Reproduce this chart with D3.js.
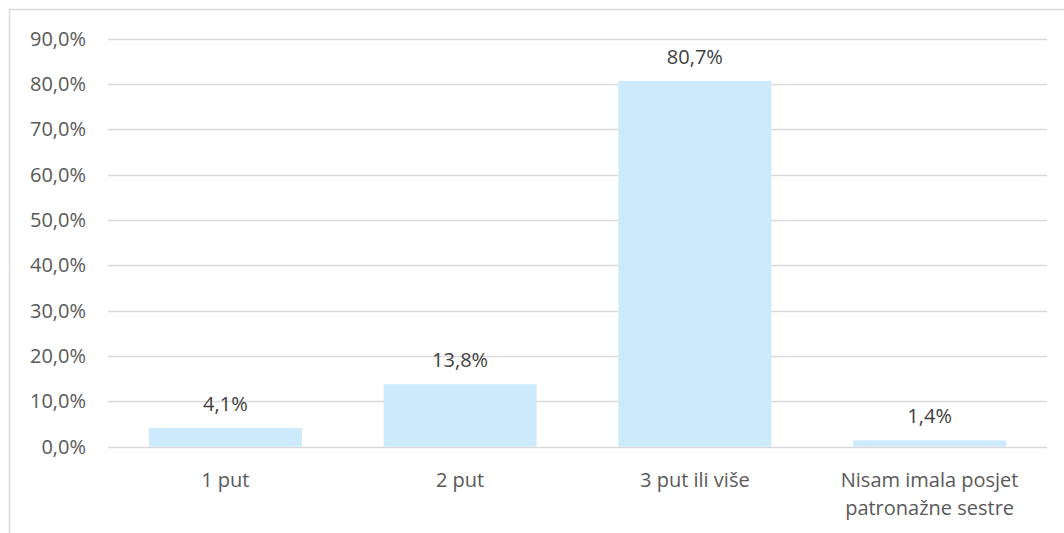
<!DOCTYPE html>
<html><head><meta charset="utf-8">
<script src="https://cdn.jsdelivr.net/npm/d3@7"></script>
<style>body{margin:0;background:#fff}svg{display:block}</style>
</head><body>
<script>
const categories = ["1 put", "2 put", "3 put ili više", "Nisam imala posjet\npatronažne sestre"];
const values = [4.1, 13.8, 80.7, 1.4];
const ticks = [0, 10, 20, 30, 40, 50, 60, 70, 80, 90];

const W = 1064, H = 533;
const svg = d3.select("body").append("svg").attr("width", W).attr("height", H);
const font = "'Open Sans', sans-serif";
const txt = "#595959";
const fs = 20;

svg.append("rect").attr("x", 9.5).attr("y", 9.5).attr("width", W + 10).attr("height", H + 10)
  .attr("fill", "none").attr("stroke", "#d9d9d9").attr("stroke-width", 1.5);

const x = d3.scaleBand().domain(categories).range([108, 1047]).paddingInner(0.348).paddingOuter(0.174);
const y = d3.scaleLinear().domain([0, 90]).range([446.7, 38.7]);

const fmt = v => v.toFixed(1).replace(".", ",") + "%";

svg.append("g").selectAll("line").data(ticks).join("line")
  .attr("x1", 108).attr("x2", 1047)
  .attr("y1", d => Math.round(y(d)) + 0.5).attr("y2", d => Math.round(y(d)) + 0.5)
  .attr("stroke", "#d9d9d9").attr("stroke-width", 1.3);

svg.append("g").selectAll("text").data(ticks).join("text")
  .attr("x", 86).attr("y", d => y(d)).attr("dy", "0.35em")
  .attr("text-anchor", "end").attr("font-family", font).attr("font-size", fs).attr("fill", txt)
  .text(fmt);

svg.append("g").selectAll("rect").data(values).join("rect")
  .attr("x", (d, i) => x(categories[i])).attr("width", x.bandwidth())
  .attr("y", d => y(d)).attr("height", d => y(0) - y(d))
  .attr("fill", "#cdeafc");

svg.append("g").selectAll("text").data(values).join("text")
  .attr("x", (d, i) => x(categories[i]) + x.bandwidth() / 2)
  .attr("y", d => y(d) - 24).attr("dy", "0.35em")
  .attr("text-anchor", "middle").attr("font-family", font).attr("font-size", fs).attr("fill", "#404040")
  .text(fmt);

const cl = svg.append("g").selectAll("text").data(categories).join("text")
  .attr("x", d => x(d) + x.bandwidth() / 2).attr("y", 480)
  .attr("text-anchor", "middle").attr("font-family", font).attr("font-size", fs).attr("fill", txt);
cl.each(function(d) {
  const lines = d.split("\n");
  const t = d3.select(this);
  lines.forEach((l, i) => t.append("tspan").attr("x", t.attr("x")).attr("dy", i === 0 ? "0.35em" : "28px").text(l));
});
</script>
</body></html>
